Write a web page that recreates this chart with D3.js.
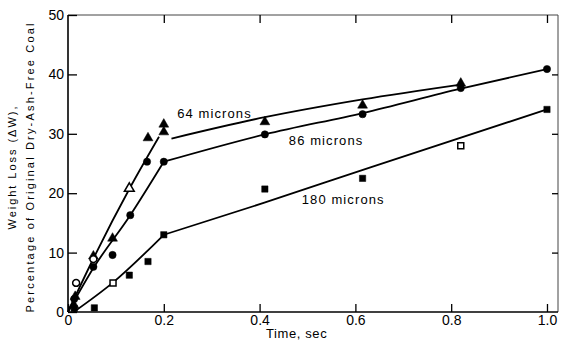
<!DOCTYPE html>
<html>
<head>
<meta charset="utf-8">
<script src="https://cdn.jsdelivr.net/npm/d3@7"></script>
<style>
  body { margin: 0; background: #fff; }
  svg { display: block; font-family: "Liberation Sans", Arial, sans-serif; }
</style>
</head>
<body>
<svg id="chart" width="561" height="340"></svg>
<script>
// tick values
var xTicks = [0, 0.2, 0.4, 0.6, 0.8, 1.0];
var yTicks = [0, 10, 20, 30, 40, 50];

// measured points [time sec, weight loss %]
var tri64 = [[0.012, 1.2], [0.015, 2.6], [0.053, 9.4], [0.093, 12.4], [0.167, 29.3],
  [0.2, 31.6], [0.2, 30.3], [0.411, 32.0], [0.615, 34.8], [0.82, 38.5]];
var tri64Open = [[0.128, 20.8]];
var dot86 = [[0.013, 2.2], [0.053, 7.6], [0.093, 9.6], [0.13, 16.3], [0.165, 25.3],
  [0.2, 25.3], [0.411, 29.9], [0.615, 33.3], [0.82, 37.7], [1.0, 40.9]];
var dot86Open = [[0.017, 4.9], [0.053, 8.9]];
var sq180 = [[0.013, 0.6], [0.055, 0.7], [0.128, 6.2], [0.167, 8.5], [0.2, 13.0],
  [0.411, 20.7], [0.615, 22.5], [1.0, 34.1]];
var sq180Open = [[0.094, 4.9], [0.82, 28.0]];

// fitted curves, one list per segment
var fit64a = [[0, 0], [0.05, 8.5], [0.13, 21.0], [0.19, 29.5]];
var fit64b = [[0.216, 29.2], [0.411, 32.8], [0.615, 35.8], [0.82, 38.3]];
var fit86a = [[0, 0], [0.053, 7.4], [0.13, 16.3], [0.2, 25.3]];
var fit86b = [[0.2, 25.3], [0.411, 29.9], [0.615, 33.5], [0.82, 37.6], [1.0, 40.9]];
var fit180a = [[0.012, 0], [0.093, 4.9], [0.2, 13.0]];
var fit180b = [[0.2, 13.0], [0.41, 18.4], [0.633, 24.4], [1.0, 34.1]];

var curveLabels = [
  { text: "64 microns", t: 0.228, v: 32.6 },
  { text: "86 microns", t: 0.461, v: 28.1 },
  { text: "180 microns", t: 0.488, v: 18.2 }
];

var svg = d3.select("#chart");

var x = d3.scaleLinear().domain([0, 1.023]).range([68, 558]),
  y = d3.scaleLinear().domain([0, 50]).range([312, 15]);

// frame
svg.append("line").attr("x1", 68).attr("x2", 558).attr("y1", 15).attr("y2", 15)
  .attr("stroke", "#444").attr("stroke-width", 1);
svg.append("line").attr("x1", 558).attr("x2", 558).attr("y1", 15).attr("y2", 312)
  .attr("stroke", "#444").attr("stroke-width", 1);
svg.append("line").attr("x1", 68).attr("x2", 68).attr("y1", 15).attr("y2", 312)
  .attr("stroke", "#000").attr("stroke-width", 1.6);
svg.append("line").attr("x1", 68).attr("x2", 558).attr("y1", 312).attr("y2", 312)
  .attr("stroke", "#000").attr("stroke-width", 1.6);

svg.append("g")
  .attr("transform", "translate(0,312)")
  .call(d3.axisBottom(x).tickValues(xTicks).tickSize(-8).tickSizeOuter(0).tickPadding(3)
    .tickFormat(function (d) { return d === 0 ? "0" : d.toFixed(1); }));

svg.append("g")
  .attr("transform", "translate(68,0)")
  .call(d3.axisLeft(y).tickValues(yTicks).tickSize(-9).tickSizeOuter(0).tickPadding(4)
    .tickFormat(d3.format("d")));

svg.append("g")
  .attr("transform", "translate(0,15)")
  .call(d3.axisTop(x).tickValues(xTicks.slice(1)).tickSize(-8).tickSizeOuter(0).tickFormat(""));

svg.append("g")
  .attr("transform", "translate(558,0)")
  .call(d3.axisRight(y).tickValues([10, 20, 30, 40]).tickSize(-6).tickSizeOuter(0).tickFormat(""));

svg.selectAll(".domain").remove();
svg.selectAll(".tick line").attr("stroke", "#000").attr("stroke-width", 1.3);
svg.selectAll(".tick text").attr("fill", "#000").style("font-size", "14px");

// fitted lines
var line = d3.line()
  .x(function (d) { return x(d[0]); })
  .y(function (d) { return y(d[1]); })
  .curve(d3.curveMonotoneX);

[fit64a, fit64b, fit86a, fit86b, fit180a, fit180b].forEach(function (f) {
  svg.append("path")
    .datum(f)
    .attr("d", line)
    .attr("fill", "none")
    .attr("stroke", "#000")
    .attr("stroke-width", 1.8);
});

// markers
function addMarkers(data, type, size, open) {
  svg.append("g").selectAll("path")
    .data(data)
    .enter()
    .append("path")
    .attr("transform", function (d) { return "translate(" + x(d[0]) + "," + y(d[1]) + ")"; })
    .attr("d", d3.symbol().type(type).size(size))
    .attr("fill", open ? "#fff" : "#000")
    .attr("stroke", "#000")
    .attr("stroke-width", open ? 1.5 : 0.5);
}

addMarkers(tri64, d3.symbolTriangle, 42, false);
addMarkers(tri64Open, d3.symbolTriangle, 42, true);
addMarkers(dot86, d3.symbolCircle, 42, false);
addMarkers(dot86Open, d3.symbolCircle, 38, true);
addMarkers(sq180, d3.symbolSquare, 40, false);
addMarkers(sq180Open, d3.symbolSquare, 36, true);

// curve labels
svg.selectAll(".clabel")
  .data(curveLabels)
  .enter()
  .append("text")
  .attr("class", "clabel")
  .attr("x", function (d) { return x(d.t); })
  .attr("y", function (d) { return y(d.v); })
  .style("font-size", "13px")
  .style("letter-spacing", "1.1px")
  .text(function (d) { return d.text; });

// axis titles
svg.append("text")
  .attr("x", 266)
  .attr("y", 338)
  .style("font-size", "13px")
  .style("letter-spacing", "0.6px")
  .text("Time, sec");

svg.append("text")
  .attr("transform", "translate(16,168)rotate(-90)")
  .attr("text-anchor", "middle")
  .attr("textLength", 123)
  .attr("lengthAdjust", "spacing")
  .style("font-size", "11px")
  .text("Weight Loss (ΔW),");

svg.append("text")
  .attr("transform", "translate(34,168)rotate(-90)")
  .attr("text-anchor", "middle")
  .attr("textLength", 289)
  .attr("lengthAdjust", "spacing")
  .style("font-size", "11px")
  .text("Percentage of Original Dry-Ash-Free Coal");
</script>
</body>
</html>
